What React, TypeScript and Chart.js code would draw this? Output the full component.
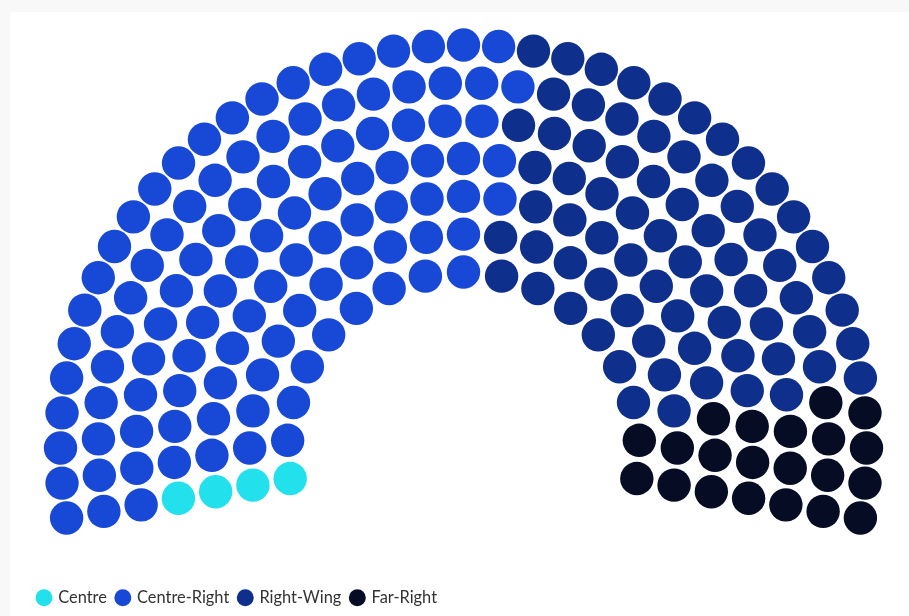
import React, { useEffect, useRef } from 'react';
import { Chart, registerables } from 'chart.js';

Chart.register(...registerables);

// ---- data ----
const parties: string[] = ['Centre', 'Centre-Right', 'Right-Wing', 'Far-Right'];
const seats: number[] = [4, 105, 71, 21];
const colors: string[] = ['#22E1EC', '#1848D6', '#0E2F8C', '#050C24'];

// ---- hemicycle layout (inner row -> outer row) ----
const ROW_SEATS: number[] = [17, 21, 25, 29, 32, 36, 41];
const START_DEG = -100; // measured from vertical
const END_DEG = 100;
const INNER_R = 176;
const OUTER_R = 403;
const CENTER_X = 453.5; // canvas px
const CENTER_Y = 436;
const SEAT_RADIUS = 16.7;

type Slot = { x: number; y: number; angle: number; row: number };

function buildSlots(): Slot[] {
  const slots: Slot[] = [];
  const nRows = ROW_SEATS.length;
  const full = END_DEG - START_DEG;
  ROW_SEATS.forEach((count, row) => {
    const r = INNER_R + (row * (OUTER_R - INNER_R)) / (nRows - 1);
    const step = full / (count - 1);
    for (let i = 0; i < count; i++) {
      const deg = START_DEG + i * step;
      const rad = (deg * Math.PI) / 180;
      slots.push({ x: r * Math.sin(rad), y: r * Math.cos(rad), angle: deg, row });
    }
  });
  slots.sort((a, b) => (Math.abs(a.angle - b.angle) < 1e-9 ? a.row - b.row : a.angle - b.angle));
  return slots;
}

function buildDatasets() {
  const slots = buildSlots();
  let k = 0;
  return parties.map((name, p) => {
    const pts: { x: number; y: number }[] = [];
    for (let s = 0; s < seats[p]; s++) {
      const slot = slots[k++];
      if (slot) pts.push({ x: slot.x, y: slot.y });
    }
    return {
      label: name,
      data: pts,
      backgroundColor: colors[p],
      borderColor: colors[p],
      borderWidth: 0,
      pointRadius: SEAT_RADIUS,
      pointHoverRadius: SEAT_RADIUS,
      pointBorderWidth: 0,
      pointStyle: 'circle',
      showLine: false,
      clip: false,
    };
  });
}

export default function App() {
  const ref = useRef<HTMLCanvasElement | null>(null);

  useEffect(() => {
    if (!ref.current) return;
    const chart = new Chart(ref.current, {
      type: 'scatter',
      data: { datasets: buildDatasets() as any },
      options: {
        animation: false,
        responsive: false,
        maintainAspectRatio: false,
        events: [],
        layout: { padding: { left: 18, right: 0, top: 0, bottom: 0 } },
        scales: {
          x: { type: 'linear', display: false, bounds: 'data', min: -450, max: 450 },
          y: { type: 'linear', display: false, bounds: 'data', min: -150, max: 450 },
        },
        plugins: {
          tooltip: { enabled: false },
          legend: {
            display: true,
            position: 'bottom',
            align: 'start',
            labels: {
              usePointStyle: true,
              pointStyle: 'circle',
              boxWidth: 12,
              boxHeight: 12,
              padding: 10,
              color: '#333333',
              font: { family: 'Lato, "Noto Sans", sans-serif', size: 16.4 },
            },
          },
        },
      },
    });
    const ca = chart.chartArea;
    const sx: any = chart.options.scales!.x;
    const sy: any = chart.options.scales!.y;
    sx.min = ca.left - CENTER_X;
    sx.max = ca.right - CENTER_X;
    sy.min = CENTER_Y - ca.bottom;
    sy.max = CENTER_Y - ca.top;
    chart.update();
    return () => chart.destroy();
  }, []);

  return (
    <div style={{ position: 'fixed', inset: 0, background: '#f8f8f8' }}>
      <div style={{ position: 'absolute', left: 10, top: 12, right: 0, bottom: 0, background: '#ffffff' }}>
        <canvas ref={ref} width={899} height={604} style={{ display: 'block' }} />
      </div>
    </div>
  );
}
